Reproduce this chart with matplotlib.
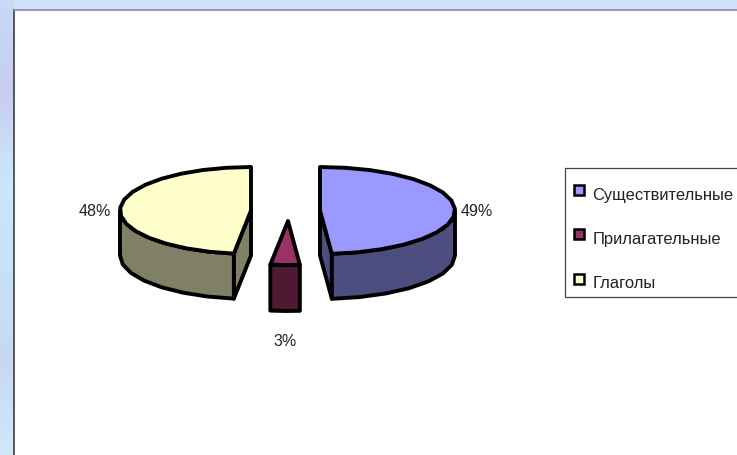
import numpy as np
import matplotlib
matplotlib.use("Agg")
import matplotlib.pyplot as plt
from matplotlib.patches import Polygon, Rectangle
from matplotlib.lines import Line2D
from matplotlib.colors import LinearSegmentedColormap

categories = ["Существительные", "Прилагательные", "Глаголы"]
values = [48.6, 3.49, 47.91]
top_colors = ["#9999FF", "#993366", "#FFFFCC"]
side_colors = ["#4D4D80", "#4D1933", "#808066"]

FONT = "Liberation Sans"

W, H = 737, 455
fig = plt.figure(figsize=(W / 100, H / 100), dpi=100)
ax = fig.add_axes([0, 0, 1, 1])
ax.set_xlim(0, W)
ax.set_ylim(H, 0)
ax.axis("off")

cmap = LinearSegmentedColormap.from_list("bg", ["#c6daf6", "#c8cdf0", "#c9e8f9", "#c6e2f6", "#c8d8f2", "#cfe8f8"])
ax.imshow(np.linspace(0, 1, 64).reshape(-1, 1), extent=(0, W, H, 0), cmap=cmap, aspect="auto", zorder=0)
ax.add_patch(Rectangle((14, 0), W, 10, color="#d2e1fb", lw=0, zorder=0.5))
ax.add_patch(Rectangle((14.5, 10.5), W, H, fc="white", ec="none", zorder=1))
ax.plot([14.5, 14.5], [H, 10], color="#4a4a55", lw=1.3, zorder=1.1)
ax.plot([15, W], [10, 10], color="#9a9aa8", lw=1.5, zorder=1.1)

DEPTHS = [45.0, 46.0, 45.0]
CENTERS = [(320.0, 210.5), (288.0, 221.0), (251.0, 210.5)]
RADII = [(135.0, 43.5), (135.0, 44.0), (131.0, 43.5)]
LW = 2.8


def arc(c, r, a0, a1, n):
    t = np.radians(np.linspace(a0, a1, n))
    return np.column_stack([c[0] + r[0] * np.cos(t), c[1] - r[1] * np.sin(t)])


start = 90.0
for i, v in enumerate(values):
    sweep = v / sum(values) * 360.0
    a0, a1 = start, start - sweep
    start = a1
    c, r = CENTERS[i], RADII[i]
    top = arc(c, r, a0, a1, max(4, int(sweep / 10)))
    down = np.array([0, DEPTHS[i]])
    z = 3 + i
    low = a1 if i == 0 else a0
    edge = arc(c, r, low, low, 1)[0]
    if i != 1:
        wall = np.array([c, c + down, edge + down, edge])
        ax.add_patch(Polygon(wall, fc=side_colors[i], ec="black", lw=LW, joinstyle="round", zorder=z))
    if i == 0:
        f0, f1 = 0.0, a1
    elif i == 2:
        f0, f1 = a0, -180.0
    else:
        f0, f1 = a0, a1
    front = arc(c, r, f0, f1, max(3, int(abs(f1 - f0) / 10)))
    rim = np.vstack([front, (front + down)[::-1]])
    ax.add_patch(Polygon(rim, fc=side_colors[i], ec="black", lw=LW, joinstyle="round", zorder=z))
    ax.add_patch(Polygon(np.vstack([c, top]), fc=top_colors[i], ec="black", lw=LW, joinstyle="round", zorder=z + 0.5))

LABEL_POS = [(477, 212), (285, 341), (95, 212)]
for v, (x, y) in zip(values, LABEL_POS):
    ax.text(x, y, f"{round(v)}%", family=FONT, fontsize=11.5, color="#222222", ha="center", va="center", zorder=9)

ax.add_patch(Rectangle((565.5, 167.5), W, 129.5, fc="white", ec="#444444", lw=0.9, zorder=8))
handles = [Line2D([], [], ls="none", marker="s", ms=6.5, mfc=col, mec="black", mew=1.8) for col in top_colors]
leg = ax.legend(handles, categories, loc="upper left", bbox_to_anchor=(565.5 / W, 1 - 183 / H),
                bbox_transform=fig.transFigure, frameon=False, borderaxespad=0,
                prop={"family": FONT, "size": 11.9}, labelspacing=1.77, handletextpad=0.33,
                handlelength=1.0, borderpad=0.3, labelcolor="#222222")
leg.set_zorder(10)
for h in leg.legend_handles:
    h.set_ydata(np.asarray(h.get_ydata()) + 3)

fig.savefig("out.png", dpi=100)
